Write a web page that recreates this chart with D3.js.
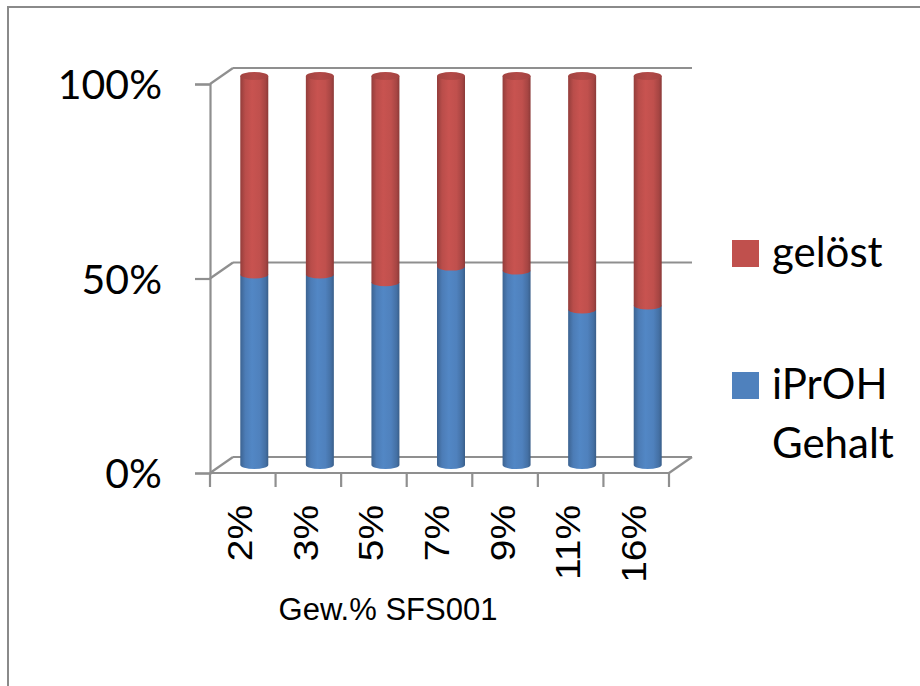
<!DOCTYPE html>
<html>
<head>
<meta charset="utf-8">
<script src="https://cdn.jsdelivr.net/npm/d3@7"></script>
<style>
  html, body { margin: 0; padding: 0; background: #fff; }
  svg { display: block; }
</style>
</head>
<body>
<svg id="chart" width="920" height="686"></svg>
<script>
// Share of each fraction per SFS001 loading (100 % stacked)
const categories = ["2%", "3%", "5%", "7%", "9%", "11%", "16%"];
const iprohGehalt = [49, 49, 47, 51, 50, 40, 41];
const geloest     = [51, 51, 53, 49, 50, 60, 59];
const yTicks = [0, 50, 100];
const seriesNames = ["gelöst", "iPrOH Gehalt"];
const seriesColors = { "gelöst": "#C0504D", "iPrOH Gehalt": "#4F81BD" };

const svg = d3.select("#chart");

// outer frame
svg.append("rect")
  .attr("x", 8).attr("y", 7).attr("width", 940).attr("height", 720)
  .attr("fill", "none").attr("stroke", "#8a8a8a").attr("stroke-width", 2);

// front plane scales, plus depth offset of the 3D box
const x = d3.scaleBand().domain(categories).range([210, 669]).paddingInner(0).paddingOuter(0);
const y = d3.scaleLinear().domain([0, 100]).range([473, 84]);
const depthX = 23, depthY = -16;
const gridColor = "#8f8f8f";

const box = svg.append("g").attr("fill", "none").attr("stroke", gridColor).attr("stroke-width", 2.2);

// back wall gridlines and connectors to the front axis
yTicks.forEach(t => {
  box.append("line")
    .attr("x1", 210 + depthX).attr("x2", 669 + depthX)
    .attr("y1", y(t) + depthY).attr("y2", y(t) + depthY);
  box.append("line")
    .attr("x1", 210).attr("y1", y(t))
    .attr("x2", 210 + depthX).attr("y2", y(t) + depthY);
});
// floor front edge and right side
box.append("line").attr("x1", 210).attr("x2", 669).attr("y1", y(0)).attr("y2", y(0));
box.append("line").attr("x1", 669).attr("y1", y(0))
  .attr("x2", 669 + depthX).attr("y2", y(0) + depthY);

// category boundary ticks
const bounds = categories.map(c => x(c)).concat([x.range()[1]]);
bounds.forEach(b => {
  box.append("line").attr("x1", b).attr("x2", b).attr("y1", y(0)).attr("y2", y(0) + 14);
});

// vertical axis with its labels
const yAxis = svg.append("g")
  .attr("transform", "translate(210,0)")
  .call(d3.axisLeft(y).tickValues(yTicks).tickSize(15).tickPadding(33)
    .tickFormat(d => d + "%"));
yAxis.select(".domain").attr("stroke", gridColor).attr("stroke-width", 2.2);
yAxis.selectAll(".tick line").attr("stroke", gridColor).attr("stroke-width", 2.2);
yAxis.selectAll(".tick text")
  .attr("fill", "#000")
  .attr("font-family", "Lato, 'Open Sans', sans-serif")
  .attr("font-size", 41)
  .attr("dy", "0.36em");

// shading gradients for the cylinders
const defs = svg.append("defs");
function shade(id, base) {
  const c = d3.color(base);
  const g = defs.append("linearGradient").attr("id", id)
    .attr("x1", "0%").attr("x2", "100%").attr("y1", "0%").attr("y2", "0%");
  [[0, c.darker(0.75)], [0.18, c.darker(0.1)], [0.42, c.brighter(0.12)],
   [0.7, c], [0.9, c.darker(0.4)], [1, c.darker(0.9)]].forEach(([o, col]) => {
    g.append("stop").attr("offset", o).attr("stop-color", col.formatHex());
  });
  const t = defs.append("linearGradient").attr("id", id + "-top")
    .attr("x1", "0%").attr("x2", "100%").attr("y1", "0%").attr("y2", "0%");
  [[0, c.darker(0.5)], [0.5, c.darker(0.2)], [1, c.darker(0.45)]].forEach(([o, col]) => {
    t.append("stop").attr("offset", o).attr("stop-color", col.formatHex());
  });
}
shade("g-red", seriesColors["gelöst"]);
shade("g-blue", seriesColors["iPrOH Gehalt"]);

// cylinders stand halfway into the depth of the box
const rx = 14, ry = 4;
const cx = c => x(c) + x.bandwidth() / 2 + depthX / 2;
const yd = v => y(v) + depthY / 2;

const bars = svg.append("g");
categories.forEach((c, i) => {
  const x0 = cx(c) - rx, x1 = cx(c) + rx;
  const yBase = yd(0);
  const yMid = yd(iprohGehalt[i]);
  const yTop = yd(iprohGehalt[i] + geloest[i]);
  // lower segment: iPrOH Gehalt
  bars.append("path")
    .attr("d", `M${x0},${yMid} L${x0},${yBase} A${rx},${ry} 0 0 0 ${x1},${yBase} L${x1},${yMid} Z`)
    .attr("fill", "url(#g-blue)");
  // upper segment: gelöst
  bars.append("path")
    .attr("d", `M${x0},${yTop} L${x0},${yMid} A${rx},${ry} 0 0 0 ${x1},${yMid} L${x1},${yTop} Z`)
    .attr("fill", "url(#g-red)");
  bars.append("ellipse")
    .attr("cx", cx(c)).attr("cy", yTop).attr("rx", rx).attr("ry", ry)
    .attr("fill", "url(#g-red-top)");
});

// category labels, rotated
const xAxis = svg.append("g")
  .attr("transform", `translate(0,505)`)
  .call(d3.axisBottom(x).tickSize(0).tickPadding(0));
xAxis.select(".domain").remove();
xAxis.selectAll(".tick text")
  .attr("fill", "#000")
  .attr("font-family", "'Liberation Sans', Arial, sans-serif")
  .attr("font-size", 36)
  .attr("text-anchor", "end")
  .attr("dy", null)
  .attr("y", null)
  .attr("dominant-baseline", "central")
  .attr("transform", "translate(-3,0) rotate(-90) scale(1.08,1)");

// axis title
svg.append("text")
  .attr("x", 388).attr("y", 620)
  .attr("text-anchor", "middle")
  .attr("font-family", "'Liberation Sans', Arial, sans-serif")
  .attr("font-size", 31)
  .attr("fill", "#000")
  .text("Gew.% SFS001");

// legend
const legendFont = "Lato, 'Open Sans', sans-serif";
const legendRows = [
  { name: seriesNames[0], lines: ["gelöst"], top: 240 },
  { name: seriesNames[1], lines: ["iPrOH", "Gehalt"], top: 372 }
];
const legend = svg.append("g");
legendRows.forEach(r => {
  legend.append("rect")
    .attr("x", 732).attr("y", r.top).attr("width", 27).attr("height", 27)
    .attr("fill", seriesColors[r.name]);
  const t = legend.append("text")
    .attr("font-family", legendFont).attr("font-size", 42).attr("fill", "#000");
  r.lines.forEach((ln, k) => {
    t.append("tspan").attr("x", 772).attr("y", r.top + 27 + k * 59).text(ln);
  });
});
</script>
</body>
</html>
